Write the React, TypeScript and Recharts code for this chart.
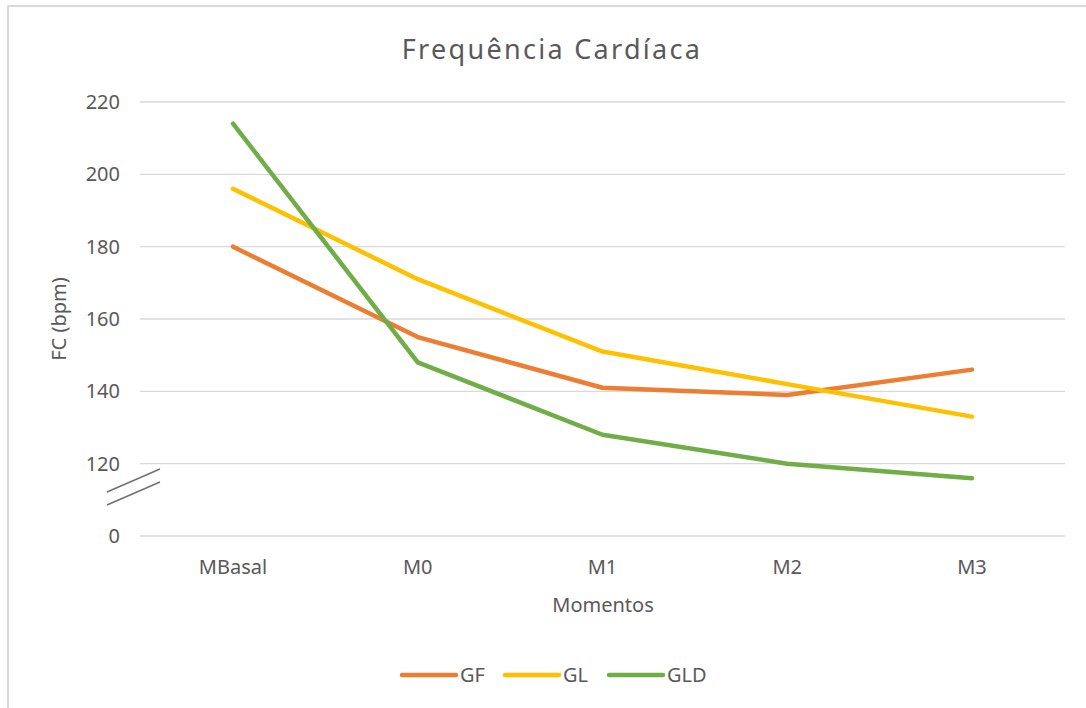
import React from "react";
import {
  LineChart,
  Line,
  XAxis,
  YAxis,
  CartesianGrid,
  Customized,
} from "recharts";

const momentos = ["MBasal", "M0", "M1", "M2", "M3"];
const gf = [180, 155, 141, 139, 146];
const gl = [196, 171, 151, 142, 133];
const gld = [214, 148, 128, 120, 116];
const yTicks = [100, 120, 140, 160, 180, 200, 220];

const SERIES = [
  { key: "GF", color: "#ED7D31", values: gf },
  { key: "GL", color: "#FFC000", values: gl },
  { key: "GLD", color: "#70AD47", values: gld },
];

const FONT = "'Noto Sans', sans-serif";
const TEXT = "#595959";
const GRID = "#d9d9d9";

const data = momentos.map((m, i) => {
  const row: Record<string, string | number> = { name: m };
  SERIES.forEach((s) => {
    row[s.key] = s.values[i];
  });
  return row;
});

// the lowest tick stands for the break, Excel shows it as 0
const YTick = (props: any) => {
  const { x, y, payload } = props;
  const isBreak = payload.value === yTicks[0];
  return (
    <g>
      <text
        x={x}
        y={y}
        dy={7}
        textAnchor="end"
        fill={TEXT}
        fontSize={20}
        fontFamily={FONT}
      >
        {isBreak ? "0" : payload.value}
      </text>
      {isBreak && (
        <g stroke="#6f6f6f" strokeWidth={1.4}>
          <line x1={x - 13} y1={y - 44} x2={x + 40} y2={y - 67} />
          <line x1={x - 13} y1={y - 31} x2={x + 40} y2={y - 54} />
        </g>
      )}
    </g>
  );
};

const XTick = (props: any) => {
  const { x, y, payload } = props;
  return (
    <text
      x={x}
      y={y}
      dy={14}
      textAnchor="middle"
      fill={TEXT}
      fontSize={20}
      fontFamily={FONT}
    >
      {payload.value}
    </text>
  );
};

const Extras = () => (
  <g fontFamily={FONT} fill={TEXT}>
    <text
      x={552}
      y={59}
      textAnchor="middle"
      fontSize={27}
      letterSpacing={2.3}
    >
      Frequência Cardíaca
    </text>
    <text
      x={0}
      y={0}
      transform="translate(66,319) rotate(-90)"
      textAnchor="middle"
      fontSize={20}
    >
      FC (bpm)
    </text>
    <text x={603} y={612} textAnchor="middle" fontSize={20}>
      Momentos
    </text>
    {SERIES.map((s, i) => {
      const lx = [402, 505, 609][i];
      return (
        <g key={s.key}>
          <line
            x1={lx}
            y1={675}
            x2={lx + 54}
            y2={675}
            stroke={s.color}
            strokeWidth={4.5}
            strokeLinecap="round"
          />
          <text x={lx + 58} y={682} fontSize={20}>
            {s.key}
          </text>
        </g>
      );
    })}
  </g>
);

export default function App() {
  return (
    <div
      style={{
        position: "absolute",
        left: 0,
        top: 0,
        width: 1086,
        height: 708,
        background: "#fff",
      }}
    >
      <div
        style={{
          position: "absolute",
          left: 7,
          top: 5,
          right: 0,
          bottom: 0,
          borderLeft: `2px solid ${GRID}`,
          borderTop: `2px solid ${GRID}`,
        }}
      />
      <div style={{ position: "absolute", left: 0, top: 0 }}>
        <LineChart
          width={1086}
          height={708}
          data={data}
          margin={{ top: 102, right: 21, bottom: 142, left: 0 }}
        >
          <CartesianGrid vertical={false} stroke={GRID} strokeWidth={1.3} />
          <XAxis
            dataKey="name"
            axisLine={false}
            tickLine={false}
            tickSize={0}
            tickMargin={24}
            height={30}
            padding={{ left: 93, right: 93 }}
            tick={<XTick />}
          />
          <YAxis
            domain={[100, 220]}
            ticks={yTicks}
            axisLine={false}
            tickLine={false}
            tickSize={0}
            tickMargin={20}
            width={140}
            interval={0}
            tick={<YTick />}
          />
          {SERIES.map((s) => (
            <Line
              key={s.key}
              dataKey={s.key}
              stroke={s.color}
              strokeWidth={4.5}
              strokeLinecap="round"
              strokeLinejoin="round"
              dot={false}
              activeDot={false}
              isAnimationActive={false}
            />
          ))}
          <Customized component={Extras} />
        </LineChart>
      </div>
    </div>
  );
}
